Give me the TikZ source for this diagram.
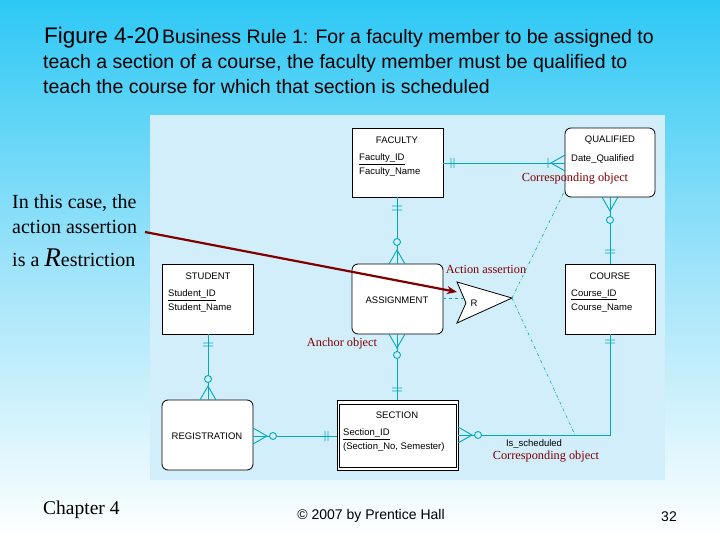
\documentclass[tikz,border=0pt]{standalone}
\usepackage{fontspec}
\setmainfont{Liberation Serif}
\setsansfont{Liberation Sans}
\usetikzlibrary{arrows.meta}
\definecolor{topc}{RGB}{45,200,245}
\definecolor{midc}{RGB}{160,228,250}
\definecolor{panel}{RGB}{210,238,250}
\definecolor{relc}{RGB}{0,170,190}
\definecolor{dredc}{RGB}{128,0,0}
\begin{document}
\begin{tikzpicture}[x=1pt,y=-1pt,
  ent/.style={draw=black,fill=white,line width=0.8pt},
  rel/.style={draw=relc,line width=0.9pt},
  dred/.style={text=dredc,font=\fontsize{12.3}{13}\selectfont,inner sep=0pt},
  etxt/.style={font=\sffamily\fontsize{9.5}{11}\selectfont,inner sep=0pt,anchor=west},
  etit/.style={font=\sffamily\fontsize{9.5}{11}\selectfont,inner sep=0pt},
  lbl/.style={font=\fontsize{20}{22}\selectfont,inner sep=0pt,anchor=west}]
\useasboundingbox (0,0) rectangle (720,540);
\shade[top color=topc,bottom color=white,middle color=midc] (0,0) rectangle (720,540);
\fill[panel] (150,115) rectangle (665,480);
% title
\node[anchor=west,inner sep=0pt,font=\sffamily] (t1) at (44,38) {{\fontsize{22.5}{24}\selectfont Figure 4-20} {\fontsize{19.5}{22}\selectfont Business Rule 1: For a faculty member to be assigned to}};
\node[anchor=west,inner sep=0pt,font=\sffamily\fontsize{19.5}{22}\selectfont] (t2) at (43,63) {teach a section of a course, the faculty member must be qualified to};
\node[anchor=west,inner sep=0pt,font=\sffamily\fontsize{19.5}{22}\selectfont] (t3) at (43,87) {teach the course for which that section is scheduled};
% entities
\draw[ent] (352,128) rectangle (443,197);
\draw[ent,rounded corners=6pt] (565,128) rectangle (655,197);
\draw[ent,rounded corners=6pt] (352,264) rectangle (443,334);
\draw[ent] (162,264) rectangle (253,334);
\draw[ent] (565,264) rectangle (655,334);
\draw[ent,rounded corners=6pt] (162,400) rectangle (253,470);
\draw[ent] (337,400) rectangle (458,470);
\draw[line width=0.8pt] (339,404) rectangle (456,467);
\node[etit] (fac) at (397,140) {FACULTY};
\node[etxt] (fid) at (359,159) {\underline{Faculty\_ID}};
\node[etxt] (fnm) at (359,172) {Faculty\_Name};
\node[etit] (qua) at (610,140) {QUALIFIED};
\node[etxt] (qd) at (571,159) {Date\_Qualified};
\node[etit] (asg) at (397,300) {ASSIGNMENT};
\node[etit] (stu) at (208,276) {STUDENT};
\node[etxt] (sid) at (168,295) {\underline{Student\_ID}};
\node[etxt] (snm) at (168,308) {Student\_Name};
\node[etit] (crs) at (610,276) {COURSE};
\node[etxt] (cid) at (571,295) {\underline{Course\_ID}};
\node[etxt] (cnm) at (571,308) {Course\_Name};
\node[etit] (reg) at (207,436) {REGISTRATION};
\node[etit] (sec) at (397,415) {SECTION};
\node[etxt] (scid) at (343,434) {\underline{Section\_ID}};
\node[etxt] (scn) at (343,447) {(Section\_No, Semester)};
% relationships
\draw[rel] (443,163) -- (565,163);
\draw[rel] (451,158)--(451,168) (454,158)--(454,168) (548,158)--(548,168) (565,155)--(551,163)--(565,171);
\draw[rel] (397,197) -- (397,264);
\draw[rel] (392,206)--(402,206) (392,210)--(402,210) (389,264)--(397,250)--(405,264);
\draw[rel,fill=panel] (397,242) circle (3.5);
\draw[rel] (610,197) -- (610,264);
\draw[rel] (602,197)--(610,211)--(618,197) (605,250)--(615,250) (605,253)--(615,253);
\draw[rel,fill=panel] (610,220) circle (3.5);
\draw[rel] (397,334) -- (397,400);
\draw[rel] (389,334)--(397,348)--(405,334) (392,388)--(402,388) (392,391)--(402,391);
\draw[rel,fill=panel] (397,355) circle (3.5);
\draw[rel] (208,334) -- (208,400);
\draw[rel] (203,343)--(213,343) (203,346)--(213,346) (200,400)--(208,386)--(216,400);
\draw[rel,fill=panel] (208,379) circle (3.5);
\draw[rel] (253,436) -- (337,436);
\draw[rel] (253,428)--(267,436)--(253,444) (325,431)--(325,441) (328,431)--(328,441);
\draw[rel,fill=panel] (273,436) circle (3.5);
\draw[rel] (458,435) -- (610,435) -- (610,334);
\draw[rel] (458,427)--(472,435)--(458,443) (605,340)--(615,340) (605,343)--(615,343);
\draw[rel,fill=panel] (478,435) circle (3.5);
% action assertion
\draw[rel,dashed] (443,298) -- (463,298);
\draw[line width=0.8pt,fill=white] (457,282) -- (512,298) -- (457,323) -- (466,303) -- cycle;
\node[etit] (r) at (474,303) {R};
\draw[rel,line width=0.6pt,dash dot] (512,298) -- (565,190);
\draw[rel,line width=0.6pt,dash dot] (512,298) -- (575,435);
\node[etit] (isch) at (534,444) {Is\_scheduled};
% red labels
\node[dred] (co1) at (575,179) {Corresponding object};
\node[dred] (aa) at (486,269) {Action assertion};
\node[dred] (ao) at (342,344) {Anchor object};
\node[dred] (co2) at (546,457) {Corresponding object};
% left text
\node[lbl] (l1) at (12,203) {In this case, the};
\node[lbl] (l2) at (12,227) {action assertion};
\node[lbl] (l3) at (12,258) {is a {\fontsize{27}{27}\selectfont\itshape R}estriction};
\coordinate (ae) at (457,292);
\draw[draw=dredc,line width=2.2pt,-{Stealth[length=10pt,width=8pt]}] (145,232) -- (ae);
% footer
\node[lbl,font=\fontsize{19.5}{22}\selectfont] (ch) at (43,510) {Chapter 4};
\node[font=\sffamily\fontsize{14}{16}\selectfont] (cp) at (371,516) {© 2007 by Prentice Hall};
\node[font=\sffamily\fontsize{14}{16}\selectfont] (pg) at (669,517) {32};
\end{tikzpicture}
\end{document}
